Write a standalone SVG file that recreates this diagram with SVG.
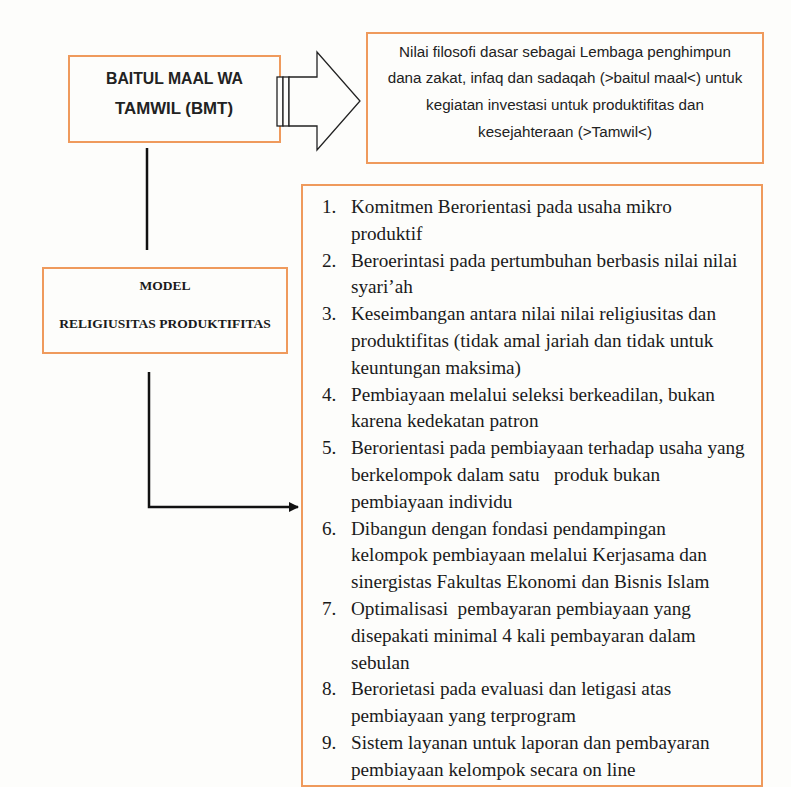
<svg xmlns="http://www.w3.org/2000/svg" width="791" height="787" viewBox="0 0 791 787">
<defs>
<marker id="ah" markerWidth="10" markerHeight="10" refX="9" refY="5" orient="auto" markerUnits="userSpaceOnUse">
<path d="M0,0 L10,5 L0,10 Z" fill="#111"/>
</marker>
</defs>
<rect width="791" height="787" fill="#fdfdfb"/>
<g id="bmt">
<rect x="69" y="56" width="211" height="86" fill="none" stroke="#ef9a5c" stroke-width="2"/>
<g font-family="'Liberation Sans', Arial, sans-serif" fill="#222" font-size="16" font-weight="bold" text-anchor="middle">
<text x="174.5" y="84" textLength="137" lengthAdjust="spacingAndGlyphs">BAITUL MAAL WA</text>
<text x="174" y="114" textLength="118" lengthAdjust="spacingAndGlyphs">TAMWIL (BMT)</text>
</g>
</g>
<g id="filosofi">
<rect x="367" y="33" width="396" height="130" fill="none" stroke="#ef9a5c" stroke-width="2"/>
<g font-family="'Liberation Sans', Arial, sans-serif" fill="#222" font-size="15.2" text-anchor="middle">
<text x="565" y="57">Nilai filosofi dasar sebagai Lembaga penghimpun</text>
<text x="565" y="83">dana zakat, infaq dan sadaqah (&gt;baitul maal&lt;) untuk</text>
<text x="565" y="110">kegiatan investasi untuk produktifitas dan</text>
<text x="565" y="137">kesejahteraan (&gt;Tamwil&lt;)</text>
</g>
</g>
<g id="model">
<rect x="43" y="268" width="244" height="85" fill="none" stroke="#ef9a5c" stroke-width="2"/>
<g font-family="'Liberation Serif', 'Times New Roman', serif" fill="#1a1a1a" font-size="13.5" font-weight="bold" text-anchor="middle">
<text x="165" y="290">MODEL</text>
<text x="165" y="328">RELIGIUSITAS PRODUKTIFITAS</text>
</g>
</g>
<g id="list">
<rect x="302" y="185" width="460" height="601" fill="none" stroke="#ef9a5c" stroke-width="2"/>
<g font-family="'Liberation Serif', 'Times New Roman', serif" fill="#1a1a1a" font-size="19.2">
<text x="322" y="213">1.</text><text x="351" y="213">Komitmen Berorientasi pada usaha mikro</text>
<text x="351" y="239.8">produktif</text>
<text x="322" y="266.6">2.</text><text x="351" y="266.6">Beroerintasi pada pertumbuhan berbasis nilai nilai</text>
<text x="351" y="293.4">syari’ah</text>
<text x="322" y="320.2">3.</text><text x="351" y="320.2">Keseimbangan antara nilai nilai religiusitas dan</text>
<text x="351" y="347">produktifitas (tidak amal jariah dan tidak untuk</text>
<text x="351" y="373.8">keuntungan maksima)</text>
<text x="322" y="400.6">4.</text><text x="351" y="400.6">Pembiayaan melalui seleksi berkeadilan, bukan</text>
<text x="351" y="427.4">karena kedekatan patron</text>
<text x="322" y="454.2">5.</text><text x="351" y="454.2">Berorientasi pada pembiayaan terhadap usaha yang</text>
<text x="351" y="481" xml:space="preserve">berkelompok dalam satu   produk bukan</text>
<text x="351" y="507.8">pembiayaan individu</text>
<text x="322" y="534.6">6.</text><text x="351" y="534.6">Dibangun dengan fondasi pendampingan</text>
<text x="351" y="561.4">kelompok pembiayaan melalui Kerjasama dan</text>
<text x="351" y="588.2">sinergistas Fakultas Ekonomi dan Bisnis Islam</text>
<text x="322" y="615">7.</text><text x="351" y="615" xml:space="preserve">Optimalisasi  pembayaran pembiayaan yang</text>
<text x="351" y="641.8">disepakati minimal 4 kali pembayaran dalam</text>
<text x="351" y="668.6">sebulan</text>
<text x="322" y="695.4">8.</text><text x="351" y="695.4">Berorietasi pada evaluasi dan letigasi atas</text>
<text x="351" y="722.2">pembiayaan yang terprogram</text>
<text x="322" y="749">9.</text><text x="351" y="749">Sistem layanan untuk laporan dan pembayaran</text>
<text x="351" y="775.8">pembiayaan kelompok secara on line</text>
</g>
</g>
<g id="connectors">
<g id="block-arrow" stroke="#222" stroke-width="1.3" fill="#fdfdfb">
<rect x="277" y="77" width="6" height="49"/>
<rect x="283" y="77" width="6" height="49"/>
<path d="M289,77 H317 V52 L360,101 L317,150 V126 H289 Z"/>
</g>
<line x1="147" y1="148" x2="147" y2="250" stroke="#111" stroke-width="2.5"/>
<path d="M149,372 V507 H298" fill="none" stroke="#111" stroke-width="2.5" marker-end="url(#ah)"/>
</g>
</svg>
